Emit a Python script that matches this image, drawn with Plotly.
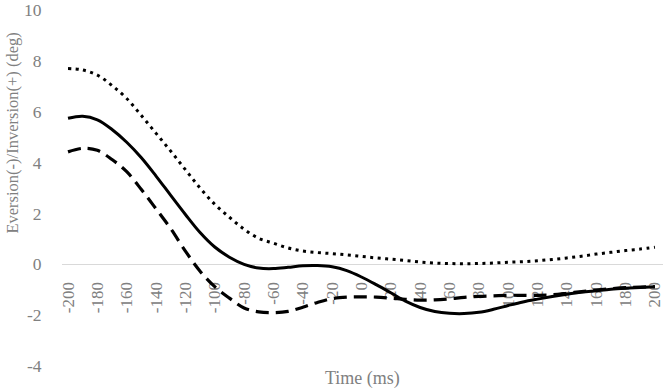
import plotly.graph_objects as go

time_ms = [-200, -190, -180, -170, -160, -150, -140, -130, -120, -110, -100,
           -90, -80, -70, -60, -50, -40, -30, -20, -10, 0,
           10, 20, 30, 40, 50, 60, 70, 80, 90, 100,
           110, 120, 130, 140, 150, 160, 170, 180, 190, 200]

dotted_series = [7.70, 7.64, 7.44, 7.03, 6.52, 5.85, 5.15, 4.45, 3.72, 3.00, 2.36,
                 1.85, 1.38, 1.02, 0.83, 0.64, 0.52, 0.46, 0.42, 0.37, 0.31,
                 0.25, 0.20, 0.15, 0.09, 0.05, 0.03, 0.02, 0.03, 0.05, 0.08,
                 0.10, 0.14, 0.19, 0.25, 0.32, 0.40, 0.47, 0.54, 0.60, 0.67]

solid_series = [5.74, 5.82, 5.68, 5.30, 4.80, 4.19, 3.47, 2.71, 1.96, 1.25, 0.68,
                0.28, 0.00, -0.15, -0.17, -0.12, -0.06, -0.05, -0.10, -0.25, -0.50,
                -0.80, -1.12, -1.45, -1.70, -1.86, -1.93, -1.94, -1.89, -1.77, -1.62,
                -1.48, -1.37, -1.27, -1.18, -1.10, -1.04, -0.98, -0.94, -0.91, -0.88]

dashed_series = [4.42, 4.56, 4.48, 4.12, 3.64, 2.94, 2.18, 1.40, 0.52, -0.27, -0.88,
                 -1.33, -1.72, -1.87, -1.90, -1.85, -1.69, -1.50, -1.35, -1.29, -1.28,
                 -1.29, -1.33, -1.38, -1.41, -1.40, -1.36, -1.30, -1.26, -1.24, -1.22,
                 -1.22, -1.22, -1.20, -1.14, -1.07, -1.01, -0.96, -0.92, -0.90, -0.88]

x_tick_vals = list(range(-200, 201, 20))
x_tick_text = [str(v) for v in x_tick_vals]
y_tick_vals = [-4, -2, 0, 2, 4, 6, 8, 10]
y_tick_text = [str(v) for v in y_tick_vals]

FONT = "Liberation Serif, Times New Roman, serif"
GREY = "#808080"

fig = go.Figure()
fig.add_trace(go.Scatter(x=time_ms, y=dotted_series, mode="lines", line_shape="spline",
                         line=dict(color="black", width=3, dash="3px,4.5px")))
fig.add_trace(go.Scatter(x=time_ms, y=solid_series, mode="lines", line_shape="spline",
                         line=dict(color="black", width=3)))
fig.add_trace(go.Scatter(x=time_ms, y=dashed_series, mode="lines", line_shape="spline",
                         line=dict(color="black", width=3.2, dash="13px,7px")))

fig.update_layout(
    width=666, height=391,
    margin=dict(l=62, r=3, t=10, b=25, autoexpand=False),
    paper_bgcolor="white", plot_bgcolor="white",
    showlegend=False,
    font=dict(family=FONT, color=GREY, size=17),
    xaxis=dict(range=[-204.1, 205.5], tickmode="array", tickvals=x_tick_vals,
               ticktext=x_tick_text, tickangle=-90, showgrid=False, zeroline=False,
               showline=True, linecolor="#d9d9d9", linewidth=1,
               anchor="free", position=4 / 14, ticks="outside", ticklen=10,
               tickcolor="rgba(0,0,0,0)", layer="below traces",
               tickfont=dict(family=FONT, color=GREY, size=17)),
    yaxis=dict(range=[-4, 10], tickmode="array", tickvals=y_tick_vals,
               ticktext=y_tick_text,
               showgrid=False, zeroline=False, showline=False,
               ticks="outside", ticklen=16, tickcolor="rgba(0,0,0,0)",
               tickfont=dict(family=FONT, color=GREY, size=17.5)),
    annotations=[
        dict(text="Time (ms)", xref="paper", yref="paper", x=0.5, y=-0.034,
             xanchor="center", yanchor="middle", showarrow=False,
             font=dict(family=FONT, color=GREY, size=18)),
        dict(text="Eversion(-)/Inversion(+) (deg)", xref="paper", yref="paper",
             x=-0.082, y=0.655, xanchor="center", yanchor="middle", textangle=-90,
             showarrow=False, font=dict(family=FONT, color=GREY, size=16.5)),
    ],
)

fig.write_html("out.html", config={"displayModeBar": False},
               post_script="document.body.style.margin='0';")
